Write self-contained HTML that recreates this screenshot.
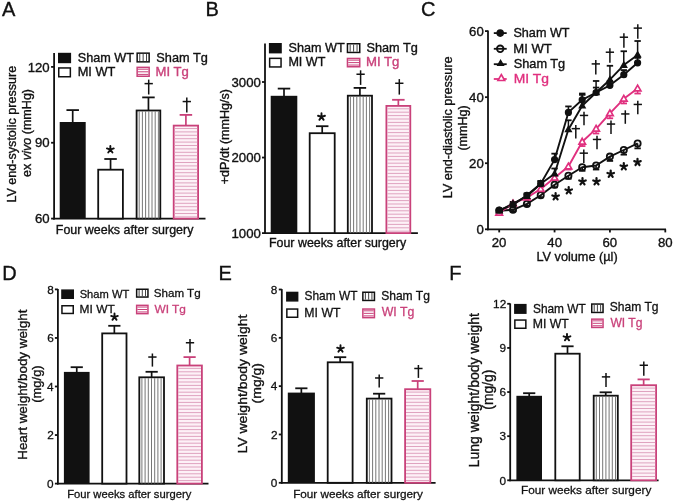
<!DOCTYPE html>
<html><head><meta charset="utf-8"><style>
html,body{margin:0;padding:0;background:#fff;}
svg{display:block;font-family:"Liberation Sans", sans-serif;will-change:transform;}
</style></head><body>
<svg width="675" height="504" viewBox="0 0 675 504">
<rect width="675" height="504" fill="#fff"/>
<text x="2.00" y="15.90" font-size="20" fill="#111" stroke="#111" stroke-width="0.35">A</text>
<text x="205.50" y="15.80" font-size="20" fill="#111" stroke="#111" stroke-width="0.35">B</text>
<text x="420.90" y="15.60" font-size="20" fill="#111" stroke="#111" stroke-width="0.35">C</text>
<text x="2.30" y="279.90" font-size="20" fill="#111" stroke="#111" stroke-width="0.35">D</text>
<text x="218.40" y="279.90" font-size="20" fill="#111" stroke="#111" stroke-width="0.35">E</text>
<text x="449.30" y="280.00" font-size="20" fill="#111" stroke="#111" stroke-width="0.35">F</text>
<line x1="54.10" y1="53.00" x2="54.10" y2="219.50" stroke="#111" stroke-width="1.8"/>
<line x1="51.10" y1="66.90" x2="54.10" y2="66.90" stroke="#111" stroke-width="1.8"/>
<text x="49.71" y="71.63" font-size="13.2" fill="#111" stroke="#111" stroke-width="0.35" text-anchor="end">120</text>
<line x1="51.10" y1="142.75" x2="54.10" y2="142.75" stroke="#111" stroke-width="1.8"/>
<text x="49.69" y="147.48" font-size="13.2" fill="#111" stroke="#111" stroke-width="0.35" text-anchor="end">90</text>
<line x1="51.10" y1="218.60" x2="54.10" y2="218.60" stroke="#111" stroke-width="1.8"/>
<text x="49.69" y="223.33" font-size="13.2" fill="#111" stroke="#111" stroke-width="0.35" text-anchor="end">60</text>
<line x1="53.20" y1="218.60" x2="205.50" y2="218.60" stroke="#111" stroke-width="1.8"/>
<line x1="72.70" y1="110.10" x2="72.70" y2="123.00" stroke="#111" stroke-width="1.7"/>
<line x1="66.45" y1="110.10" x2="78.95" y2="110.10" stroke="#111" stroke-width="1.8"/>
<rect x="59.70" y="122.00" width="26.00" height="96.60" fill="#111"/>
<line x1="110.55" y1="159.00" x2="110.55" y2="169.80" stroke="#111" stroke-width="1.7"/>
<line x1="104.30" y1="159.00" x2="116.80" y2="159.00" stroke="#111" stroke-width="1.8"/>
<rect x="98.20" y="169.70" width="24.70" height="48.90" fill="#fff" stroke="#111" stroke-width="1.8"/>
<line x1="148.45" y1="97.40" x2="148.45" y2="110.60" stroke="#111" stroke-width="1.7"/>
<line x1="142.20" y1="97.40" x2="154.70" y2="97.40" stroke="#111" stroke-width="1.8"/>
<rect x="136.60" y="110.50" width="23.70" height="108.10" fill="#fff" stroke="#111" stroke-width="1.8"/>
<line x1="139.20" y1="111.40" x2="139.20" y2="218.60" stroke="#666" stroke-width="0.9"/>
<line x1="142.40" y1="111.40" x2="142.40" y2="218.60" stroke="#666" stroke-width="0.9"/>
<line x1="145.60" y1="111.40" x2="145.60" y2="218.60" stroke="#666" stroke-width="0.9"/>
<line x1="148.80" y1="111.40" x2="148.80" y2="218.60" stroke="#666" stroke-width="0.9"/>
<line x1="152.00" y1="111.40" x2="152.00" y2="218.60" stroke="#666" stroke-width="0.9"/>
<line x1="155.20" y1="111.40" x2="155.20" y2="218.60" stroke="#666" stroke-width="0.9"/>
<line x1="158.40" y1="111.40" x2="158.40" y2="218.60" stroke="#666" stroke-width="0.9"/>
<line x1="185.90" y1="114.90" x2="185.90" y2="125.70" stroke="#c9417a" stroke-width="1.7"/>
<line x1="179.65" y1="114.90" x2="192.15" y2="114.90" stroke="#c9417a" stroke-width="1.8"/>
<rect x="173.70" y="125.60" width="24.40" height="93.00" fill="#fdf1f7" stroke="#c9417a" stroke-width="1.8"/>
<line x1="174.60" y1="128.50" x2="197.20" y2="128.50" stroke="#dfa3bf" stroke-width="1.0"/>
<line x1="174.60" y1="131.90" x2="197.20" y2="131.90" stroke="#dfa3bf" stroke-width="1.0"/>
<line x1="174.60" y1="135.30" x2="197.20" y2="135.30" stroke="#dfa3bf" stroke-width="1.0"/>
<line x1="174.60" y1="138.70" x2="197.20" y2="138.70" stroke="#dfa3bf" stroke-width="1.0"/>
<line x1="174.60" y1="142.10" x2="197.20" y2="142.10" stroke="#dfa3bf" stroke-width="1.0"/>
<line x1="174.60" y1="145.50" x2="197.20" y2="145.50" stroke="#dfa3bf" stroke-width="1.0"/>
<line x1="174.60" y1="148.90" x2="197.20" y2="148.90" stroke="#dfa3bf" stroke-width="1.0"/>
<line x1="174.60" y1="152.30" x2="197.20" y2="152.30" stroke="#dfa3bf" stroke-width="1.0"/>
<line x1="174.60" y1="155.70" x2="197.20" y2="155.70" stroke="#dfa3bf" stroke-width="1.0"/>
<line x1="174.60" y1="159.10" x2="197.20" y2="159.10" stroke="#dfa3bf" stroke-width="1.0"/>
<line x1="174.60" y1="162.50" x2="197.20" y2="162.50" stroke="#dfa3bf" stroke-width="1.0"/>
<line x1="174.60" y1="165.90" x2="197.20" y2="165.90" stroke="#dfa3bf" stroke-width="1.0"/>
<line x1="174.60" y1="169.30" x2="197.20" y2="169.30" stroke="#dfa3bf" stroke-width="1.0"/>
<line x1="174.60" y1="172.70" x2="197.20" y2="172.70" stroke="#dfa3bf" stroke-width="1.0"/>
<line x1="174.60" y1="176.10" x2="197.20" y2="176.10" stroke="#dfa3bf" stroke-width="1.0"/>
<line x1="174.60" y1="179.50" x2="197.20" y2="179.50" stroke="#dfa3bf" stroke-width="1.0"/>
<line x1="174.60" y1="182.90" x2="197.20" y2="182.90" stroke="#dfa3bf" stroke-width="1.0"/>
<line x1="174.60" y1="186.30" x2="197.20" y2="186.30" stroke="#dfa3bf" stroke-width="1.0"/>
<line x1="174.60" y1="189.70" x2="197.20" y2="189.70" stroke="#dfa3bf" stroke-width="1.0"/>
<line x1="174.60" y1="193.10" x2="197.20" y2="193.10" stroke="#dfa3bf" stroke-width="1.0"/>
<line x1="174.60" y1="196.50" x2="197.20" y2="196.50" stroke="#dfa3bf" stroke-width="1.0"/>
<line x1="174.60" y1="199.90" x2="197.20" y2="199.90" stroke="#dfa3bf" stroke-width="1.0"/>
<line x1="174.60" y1="203.30" x2="197.20" y2="203.30" stroke="#dfa3bf" stroke-width="1.0"/>
<line x1="174.60" y1="206.70" x2="197.20" y2="206.70" stroke="#dfa3bf" stroke-width="1.0"/>
<line x1="174.60" y1="210.10" x2="197.20" y2="210.10" stroke="#dfa3bf" stroke-width="1.0"/>
<line x1="174.60" y1="213.50" x2="197.20" y2="213.50" stroke="#dfa3bf" stroke-width="1.0"/>
<line x1="174.60" y1="216.90" x2="197.20" y2="216.90" stroke="#dfa3bf" stroke-width="1.0"/>
<path d="M110.35,149.54L110.35,145.95M110.35,149.54L106.93,148.43M110.35,149.54L108.24,152.45M110.35,149.54L112.46,152.45M110.35,149.54L113.77,148.43" stroke="#111" stroke-width="1.9" stroke-linecap="round" fill="none"/>
<line x1="148.70" y1="79.60" x2="148.70" y2="94.50" stroke="#111" stroke-width="1.5"/>
<line x1="144.55" y1="83.62" x2="152.85" y2="83.62" stroke="#111" stroke-width="1.5"/>
<line x1="186.80" y1="97.50" x2="186.80" y2="112.50" stroke="#111" stroke-width="1.5"/>
<line x1="182.65" y1="101.55" x2="190.95" y2="101.55" stroke="#111" stroke-width="1.5"/>
<rect x="58.75" y="53.55" width="11.60" height="8.90" fill="#111" stroke="#111" stroke-width="1.5"/>
<rect x="58.75" y="67.95" width="11.60" height="8.80" fill="#fff" stroke="#111" stroke-width="1.5"/>
<rect x="137.15" y="53.15" width="12.00" height="8.70" fill="#fff" stroke="#111" stroke-width="1.5"/>
<line x1="139.78" y1="53.90" x2="139.78" y2="61.10" stroke="#444" stroke-width="1.0"/>
<line x1="143.15" y1="53.90" x2="143.15" y2="61.10" stroke="#444" stroke-width="1.0"/>
<line x1="146.53" y1="53.90" x2="146.53" y2="61.10" stroke="#444" stroke-width="1.0"/>
<rect x="137.15" y="67.35" width="12.00" height="8.90" fill="#fff" stroke="#c9417a" stroke-width="1.5"/>
<line x1="137.90" y1="69.20" x2="148.40" y2="69.20" stroke="#c9417a" stroke-width="1.0"/>
<line x1="137.90" y1="71.80" x2="148.40" y2="71.80" stroke="#c9417a" stroke-width="1.0"/>
<line x1="137.90" y1="74.40" x2="148.40" y2="74.40" stroke="#c9417a" stroke-width="1.0"/>
<text x="77.73" y="62.00" font-size="12.6" fill="#111" stroke="#111" stroke-width="0.35" textLength="56.22" lengthAdjust="spacingAndGlyphs" >Sham WT</text>
<text x="77.69" y="76.40" font-size="12.6" fill="#111" stroke="#111" stroke-width="0.35" textLength="37.74" lengthAdjust="spacingAndGlyphs" >MI WT</text>
<text x="156.33" y="61.80" font-size="12.6" fill="#111" stroke="#111" stroke-width="0.35" textLength="51.48" lengthAdjust="spacingAndGlyphs" >Sham Tg</text>
<text x="155.59" y="76.00" font-size="12.6" fill="#c9417a" stroke="#c9417a" stroke-width="0.35" textLength="33.26" lengthAdjust="spacingAndGlyphs" >MI Tg</text>
<text x="55.80" y="234.00" font-size="12.45" fill="#111" stroke="#111" stroke-width="0.35" textLength="137.59" lengthAdjust="spacingAndGlyphs" >Four weeks after surgery</text>
<text x="0" y="0" font-size="12.5" fill="#111" stroke="#111" stroke-width="0.35" textLength="136.77" lengthAdjust="spacingAndGlyphs" transform="translate(15.80,202.60) rotate(-90)">LV end-systolic pressure</text>
<text x="0" y="0" font-size="12.5" fill="#111" stroke="#111" stroke-width="0.35" textLength="87.96" lengthAdjust="spacingAndGlyphs" transform="translate(31.00,176.90) rotate(-90)">ex <tspan font-style="italic">vivo</tspan> (mmHg)</text>
<line x1="265.00" y1="43.50" x2="265.00" y2="234.00" stroke="#111" stroke-width="1.8"/>
<line x1="262.00" y1="82.00" x2="265.00" y2="82.00" stroke="#111" stroke-width="1.8"/>
<text x="260.86" y="86.73" font-size="13.2" fill="#111" stroke="#111" stroke-width="0.35" text-anchor="end">3000</text>
<line x1="262.00" y1="157.55" x2="265.00" y2="157.55" stroke="#111" stroke-width="1.8"/>
<text x="260.86" y="162.28" font-size="13.2" fill="#111" stroke="#111" stroke-width="0.35" text-anchor="end">2000</text>
<line x1="262.00" y1="233.10" x2="265.00" y2="233.10" stroke="#111" stroke-width="1.8"/>
<text x="260.86" y="237.83" font-size="13.2" fill="#111" stroke="#111" stroke-width="0.35" text-anchor="end">1000</text>
<line x1="264.10" y1="233.10" x2="417.90" y2="233.10" stroke="#111" stroke-width="1.8"/>
<line x1="284.00" y1="88.60" x2="284.00" y2="96.80" stroke="#111" stroke-width="1.7"/>
<line x1="277.75" y1="88.60" x2="290.25" y2="88.60" stroke="#111" stroke-width="1.8"/>
<rect x="270.70" y="95.80" width="26.60" height="137.30" fill="#111"/>
<line x1="322.20" y1="126.20" x2="322.20" y2="133.30" stroke="#111" stroke-width="1.7"/>
<line x1="315.95" y1="126.20" x2="328.45" y2="126.20" stroke="#111" stroke-width="1.8"/>
<rect x="309.70" y="133.20" width="25.00" height="99.90" fill="#fff" stroke="#111" stroke-width="1.8"/>
<line x1="359.90" y1="87.90" x2="359.90" y2="95.80" stroke="#111" stroke-width="1.7"/>
<line x1="353.65" y1="87.90" x2="366.15" y2="87.90" stroke="#111" stroke-width="1.8"/>
<rect x="347.80" y="95.70" width="24.20" height="137.40" fill="#fff" stroke="#111" stroke-width="1.8"/>
<line x1="350.40" y1="96.60" x2="350.40" y2="233.10" stroke="#666" stroke-width="0.9"/>
<line x1="353.60" y1="96.60" x2="353.60" y2="233.10" stroke="#666" stroke-width="0.9"/>
<line x1="356.80" y1="96.60" x2="356.80" y2="233.10" stroke="#666" stroke-width="0.9"/>
<line x1="360.00" y1="96.60" x2="360.00" y2="233.10" stroke="#666" stroke-width="0.9"/>
<line x1="363.20" y1="96.60" x2="363.20" y2="233.10" stroke="#666" stroke-width="0.9"/>
<line x1="366.40" y1="96.60" x2="366.40" y2="233.10" stroke="#666" stroke-width="0.9"/>
<line x1="369.60" y1="96.60" x2="369.60" y2="233.10" stroke="#666" stroke-width="0.9"/>
<line x1="398.35" y1="99.80" x2="398.35" y2="106.00" stroke="#c9417a" stroke-width="1.7"/>
<line x1="392.10" y1="99.80" x2="404.60" y2="99.80" stroke="#c9417a" stroke-width="1.8"/>
<rect x="386.40" y="105.90" width="23.90" height="127.20" fill="#fdf1f7" stroke="#c9417a" stroke-width="1.8"/>
<line x1="387.30" y1="108.80" x2="409.40" y2="108.80" stroke="#dfa3bf" stroke-width="1.0"/>
<line x1="387.30" y1="112.20" x2="409.40" y2="112.20" stroke="#dfa3bf" stroke-width="1.0"/>
<line x1="387.30" y1="115.60" x2="409.40" y2="115.60" stroke="#dfa3bf" stroke-width="1.0"/>
<line x1="387.30" y1="119.00" x2="409.40" y2="119.00" stroke="#dfa3bf" stroke-width="1.0"/>
<line x1="387.30" y1="122.40" x2="409.40" y2="122.40" stroke="#dfa3bf" stroke-width="1.0"/>
<line x1="387.30" y1="125.80" x2="409.40" y2="125.80" stroke="#dfa3bf" stroke-width="1.0"/>
<line x1="387.30" y1="129.20" x2="409.40" y2="129.20" stroke="#dfa3bf" stroke-width="1.0"/>
<line x1="387.30" y1="132.60" x2="409.40" y2="132.60" stroke="#dfa3bf" stroke-width="1.0"/>
<line x1="387.30" y1="136.00" x2="409.40" y2="136.00" stroke="#dfa3bf" stroke-width="1.0"/>
<line x1="387.30" y1="139.40" x2="409.40" y2="139.40" stroke="#dfa3bf" stroke-width="1.0"/>
<line x1="387.30" y1="142.80" x2="409.40" y2="142.80" stroke="#dfa3bf" stroke-width="1.0"/>
<line x1="387.30" y1="146.20" x2="409.40" y2="146.20" stroke="#dfa3bf" stroke-width="1.0"/>
<line x1="387.30" y1="149.60" x2="409.40" y2="149.60" stroke="#dfa3bf" stroke-width="1.0"/>
<line x1="387.30" y1="153.00" x2="409.40" y2="153.00" stroke="#dfa3bf" stroke-width="1.0"/>
<line x1="387.30" y1="156.40" x2="409.40" y2="156.40" stroke="#dfa3bf" stroke-width="1.0"/>
<line x1="387.30" y1="159.80" x2="409.40" y2="159.80" stroke="#dfa3bf" stroke-width="1.0"/>
<line x1="387.30" y1="163.20" x2="409.40" y2="163.20" stroke="#dfa3bf" stroke-width="1.0"/>
<line x1="387.30" y1="166.60" x2="409.40" y2="166.60" stroke="#dfa3bf" stroke-width="1.0"/>
<line x1="387.30" y1="170.00" x2="409.40" y2="170.00" stroke="#dfa3bf" stroke-width="1.0"/>
<line x1="387.30" y1="173.40" x2="409.40" y2="173.40" stroke="#dfa3bf" stroke-width="1.0"/>
<line x1="387.30" y1="176.80" x2="409.40" y2="176.80" stroke="#dfa3bf" stroke-width="1.0"/>
<line x1="387.30" y1="180.20" x2="409.40" y2="180.20" stroke="#dfa3bf" stroke-width="1.0"/>
<line x1="387.30" y1="183.60" x2="409.40" y2="183.60" stroke="#dfa3bf" stroke-width="1.0"/>
<line x1="387.30" y1="187.00" x2="409.40" y2="187.00" stroke="#dfa3bf" stroke-width="1.0"/>
<line x1="387.30" y1="190.40" x2="409.40" y2="190.40" stroke="#dfa3bf" stroke-width="1.0"/>
<line x1="387.30" y1="193.80" x2="409.40" y2="193.80" stroke="#dfa3bf" stroke-width="1.0"/>
<line x1="387.30" y1="197.20" x2="409.40" y2="197.20" stroke="#dfa3bf" stroke-width="1.0"/>
<line x1="387.30" y1="200.60" x2="409.40" y2="200.60" stroke="#dfa3bf" stroke-width="1.0"/>
<line x1="387.30" y1="204.00" x2="409.40" y2="204.00" stroke="#dfa3bf" stroke-width="1.0"/>
<line x1="387.30" y1="207.40" x2="409.40" y2="207.40" stroke="#dfa3bf" stroke-width="1.0"/>
<line x1="387.30" y1="210.80" x2="409.40" y2="210.80" stroke="#dfa3bf" stroke-width="1.0"/>
<line x1="387.30" y1="214.20" x2="409.40" y2="214.20" stroke="#dfa3bf" stroke-width="1.0"/>
<line x1="387.30" y1="217.60" x2="409.40" y2="217.60" stroke="#dfa3bf" stroke-width="1.0"/>
<line x1="387.30" y1="221.00" x2="409.40" y2="221.00" stroke="#dfa3bf" stroke-width="1.0"/>
<line x1="387.30" y1="224.40" x2="409.40" y2="224.40" stroke="#dfa3bf" stroke-width="1.0"/>
<line x1="387.30" y1="227.80" x2="409.40" y2="227.80" stroke="#dfa3bf" stroke-width="1.0"/>
<line x1="387.30" y1="231.20" x2="409.40" y2="231.20" stroke="#dfa3bf" stroke-width="1.0"/>
<path d="M321.50,116.90L321.50,113.25M321.50,116.90L318.03,115.77M321.50,116.90L319.36,119.85M321.50,116.90L323.64,119.85M321.50,116.90L324.97,115.77" stroke="#111" stroke-width="1.9" stroke-linecap="round" fill="none"/>
<line x1="360.60" y1="70.30" x2="360.60" y2="84.90" stroke="#111" stroke-width="1.5"/>
<line x1="356.45" y1="74.24" x2="364.75" y2="74.24" stroke="#111" stroke-width="1.5"/>
<line x1="399.30" y1="79.10" x2="399.30" y2="94.60" stroke="#111" stroke-width="1.5"/>
<line x1="395.15" y1="83.28" x2="403.45" y2="83.28" stroke="#111" stroke-width="1.5"/>
<rect x="269.65" y="43.75" width="11.40" height="8.90" fill="#111" stroke="#111" stroke-width="1.5"/>
<rect x="269.65" y="58.35" width="11.40" height="8.60" fill="#fff" stroke="#111" stroke-width="1.5"/>
<rect x="347.45" y="43.75" width="12.30" height="8.70" fill="#fff" stroke="#111" stroke-width="1.5"/>
<line x1="350.15" y1="44.50" x2="350.15" y2="51.70" stroke="#444" stroke-width="1.0"/>
<line x1="353.60" y1="44.50" x2="353.60" y2="51.70" stroke="#444" stroke-width="1.0"/>
<line x1="357.05" y1="44.50" x2="357.05" y2="51.70" stroke="#444" stroke-width="1.0"/>
<rect x="347.45" y="58.45" width="12.30" height="8.30" fill="#fff" stroke="#c9417a" stroke-width="1.5"/>
<line x1="348.20" y1="60.15" x2="359.00" y2="60.15" stroke="#c9417a" stroke-width="1.0"/>
<line x1="348.20" y1="62.60" x2="359.00" y2="62.60" stroke="#c9417a" stroke-width="1.0"/>
<line x1="348.20" y1="65.05" x2="359.00" y2="65.05" stroke="#c9417a" stroke-width="1.0"/>
<text x="288.53" y="52.00" font-size="12.6" fill="#111" stroke="#111" stroke-width="0.35" textLength="56.22" lengthAdjust="spacingAndGlyphs" >Sham WT</text>
<text x="288.39" y="66.30" font-size="12.6" fill="#111" stroke="#111" stroke-width="0.35" textLength="37.04" lengthAdjust="spacingAndGlyphs" >MI WT</text>
<text x="366.43" y="52.00" font-size="12.6" fill="#111" stroke="#111" stroke-width="0.35" textLength="51.38" lengthAdjust="spacingAndGlyphs" >Sham Tg</text>
<text x="365.99" y="66.30" font-size="12.6" fill="#c9417a" stroke="#c9417a" stroke-width="0.35" textLength="33.46" lengthAdjust="spacingAndGlyphs" >MI Tg</text>
<text x="269.01" y="247.30" font-size="12.4" fill="#111" stroke="#111" stroke-width="0.35" textLength="137.09" lengthAdjust="spacingAndGlyphs" >Four weeks after surgery</text>
<text x="0" y="0" font-size="12.5" fill="#111" stroke="#111" stroke-width="0.35" textLength="95.24" lengthAdjust="spacingAndGlyphs" transform="translate(229.30,184.22) rotate(-90)">+dP/dt (mmHg/s)</text>
<line x1="488.00" y1="30.40" x2="488.00" y2="230.20" stroke="#111" stroke-width="1.8"/>
<line x1="485.00" y1="31.10" x2="488.00" y2="31.10" stroke="#111" stroke-width="1.8"/>
<text x="483.79" y="35.83" font-size="13.2" fill="#111" stroke="#111" stroke-width="0.35" text-anchor="end">60</text>
<line x1="485.00" y1="97.17" x2="488.00" y2="97.17" stroke="#111" stroke-width="1.8"/>
<text x="483.79" y="101.89" font-size="13.2" fill="#111" stroke="#111" stroke-width="0.35" text-anchor="end">40</text>
<line x1="485.00" y1="163.23" x2="488.00" y2="163.23" stroke="#111" stroke-width="1.8"/>
<text x="483.79" y="167.96" font-size="13.2" fill="#111" stroke="#111" stroke-width="0.35" text-anchor="end">20</text>
<line x1="485.00" y1="229.30" x2="488.00" y2="229.30" stroke="#111" stroke-width="1.8"/>
<text x="483.78" y="234.03" font-size="13.2" fill="#111" stroke="#111" stroke-width="0.35" text-anchor="end">0</text>
<line x1="487.10" y1="229.30" x2="666.00" y2="229.30" stroke="#111" stroke-width="1.8"/>
<line x1="499.20" y1="229.30" x2="499.20" y2="232.40" stroke="#111" stroke-width="1.8"/>
<text x="499.12" y="246.60" font-size="13.2" fill="#111" stroke="#111" stroke-width="0.35" text-anchor="middle">20</text>
<line x1="554.57" y1="229.30" x2="554.57" y2="232.40" stroke="#111" stroke-width="1.8"/>
<text x="554.68" y="246.60" font-size="13.2" fill="#111" stroke="#111" stroke-width="0.35" text-anchor="middle">40</text>
<line x1="609.93" y1="229.30" x2="609.93" y2="232.40" stroke="#111" stroke-width="1.8"/>
<text x="609.85" y="246.60" font-size="13.2" fill="#111" stroke="#111" stroke-width="0.35" text-anchor="middle">60</text>
<line x1="665.30" y1="229.30" x2="665.30" y2="232.40" stroke="#111" stroke-width="1.8"/>
<text x="665.25" y="246.60" font-size="13.2" fill="#111" stroke="#111" stroke-width="0.35" text-anchor="middle">80</text>
<text x="536.40" y="261.30" font-size="12.5" fill="#111" stroke="#111" stroke-width="0.35" textLength="81.29" lengthAdjust="spacingAndGlyphs" >LV volume (µl)</text>
<text x="0" y="0" font-size="12.6" fill="#111" stroke="#111" stroke-width="0.35" textLength="141.77" lengthAdjust="spacingAndGlyphs" transform="translate(452.40,198.31) rotate(-90)">LV end-diastolic pressure</text>
<text x="0" y="0" font-size="12.6" fill="#111" stroke="#111" stroke-width="0.35" textLength="45.32" lengthAdjust="spacingAndGlyphs" transform="translate(467.40,150.56) rotate(-90)">(mmHg)</text>
<line x1="499.20" y1="210.14" x2="499.20" y2="209.15" stroke="#111" stroke-width="1.5"/>
<line x1="496.00" y1="209.15" x2="502.40" y2="209.15" stroke="#111" stroke-width="1.8"/>
<line x1="513.04" y1="204.86" x2="513.04" y2="203.20" stroke="#111" stroke-width="1.5"/>
<line x1="509.84" y1="203.20" x2="516.24" y2="203.20" stroke="#111" stroke-width="1.8"/>
<line x1="526.88" y1="195.28" x2="526.88" y2="193.29" stroke="#111" stroke-width="1.5"/>
<line x1="523.68" y1="193.29" x2="530.08" y2="193.29" stroke="#111" stroke-width="1.8"/>
<line x1="540.73" y1="183.71" x2="540.73" y2="181.07" stroke="#111" stroke-width="1.5"/>
<line x1="537.52" y1="181.07" x2="543.93" y2="181.07" stroke="#111" stroke-width="1.8"/>
<line x1="554.57" y1="159.60" x2="554.57" y2="153.65" stroke="#111" stroke-width="1.5"/>
<line x1="551.37" y1="153.65" x2="557.77" y2="153.65" stroke="#111" stroke-width="1.8"/>
<line x1="568.41" y1="112.36" x2="568.41" y2="106.42" stroke="#111" stroke-width="1.5"/>
<line x1="565.21" y1="106.42" x2="571.61" y2="106.42" stroke="#111" stroke-width="1.8"/>
<line x1="582.25" y1="99.81" x2="582.25" y2="93.53" stroke="#111" stroke-width="1.5"/>
<line x1="579.05" y1="93.53" x2="585.45" y2="93.53" stroke="#111" stroke-width="1.8"/>
<line x1="596.09" y1="92.54" x2="596.09" y2="87.59" stroke="#111" stroke-width="1.5"/>
<line x1="592.89" y1="87.59" x2="599.29" y2="87.59" stroke="#111" stroke-width="1.8"/>
<line x1="609.93" y1="85.27" x2="609.93" y2="80.98" stroke="#111" stroke-width="1.5"/>
<line x1="606.73" y1="80.98" x2="613.13" y2="80.98" stroke="#111" stroke-width="1.8"/>
<line x1="623.77" y1="74.70" x2="623.77" y2="70.08" stroke="#111" stroke-width="1.5"/>
<line x1="620.57" y1="70.08" x2="626.98" y2="70.08" stroke="#111" stroke-width="1.8"/>
<line x1="637.62" y1="62.81" x2="637.62" y2="57.86" stroke="#111" stroke-width="1.5"/>
<line x1="634.42" y1="57.86" x2="640.82" y2="57.86" stroke="#111" stroke-width="1.8"/>
<line x1="499.20" y1="210.80" x2="499.20" y2="209.81" stroke="#111" stroke-width="1.5"/>
<line x1="496.00" y1="209.81" x2="502.40" y2="209.81" stroke="#111" stroke-width="1.8"/>
<line x1="513.04" y1="203.53" x2="513.04" y2="201.88" stroke="#111" stroke-width="1.5"/>
<line x1="509.84" y1="201.88" x2="516.24" y2="201.88" stroke="#111" stroke-width="1.8"/>
<line x1="526.88" y1="196.27" x2="526.88" y2="194.28" stroke="#111" stroke-width="1.5"/>
<line x1="523.68" y1="194.28" x2="530.08" y2="194.28" stroke="#111" stroke-width="1.8"/>
<line x1="540.73" y1="183.71" x2="540.73" y2="181.07" stroke="#111" stroke-width="1.5"/>
<line x1="537.52" y1="181.07" x2="543.93" y2="181.07" stroke="#111" stroke-width="1.8"/>
<line x1="554.57" y1="173.80" x2="554.57" y2="168.52" stroke="#111" stroke-width="1.5"/>
<line x1="551.37" y1="168.52" x2="557.77" y2="168.52" stroke="#111" stroke-width="1.8"/>
<line x1="568.41" y1="129.54" x2="568.41" y2="120.29" stroke="#111" stroke-width="1.5"/>
<line x1="565.21" y1="120.29" x2="571.61" y2="120.29" stroke="#111" stroke-width="1.8"/>
<line x1="582.25" y1="105.76" x2="582.25" y2="94.85" stroke="#111" stroke-width="1.5"/>
<line x1="579.05" y1="94.85" x2="585.45" y2="94.85" stroke="#111" stroke-width="1.8"/>
<line x1="596.09" y1="92.54" x2="596.09" y2="80.98" stroke="#111" stroke-width="1.5"/>
<line x1="592.89" y1="80.98" x2="599.29" y2="80.98" stroke="#111" stroke-width="1.8"/>
<line x1="609.93" y1="79.66" x2="609.93" y2="65.78" stroke="#111" stroke-width="1.5"/>
<line x1="606.73" y1="65.78" x2="613.13" y2="65.78" stroke="#111" stroke-width="1.8"/>
<line x1="623.77" y1="65.12" x2="623.77" y2="51.25" stroke="#111" stroke-width="1.5"/>
<line x1="620.57" y1="51.25" x2="626.98" y2="51.25" stroke="#111" stroke-width="1.8"/>
<line x1="637.62" y1="54.88" x2="637.62" y2="41.01" stroke="#111" stroke-width="1.5"/>
<line x1="634.42" y1="41.01" x2="640.82" y2="41.01" stroke="#111" stroke-width="1.8"/>
<line x1="499.20" y1="212.78" x2="499.20" y2="213.77" stroke="#e0307f" stroke-width="1.5"/>
<line x1="496.00" y1="213.77" x2="502.40" y2="213.77" stroke="#e0307f" stroke-width="1.8"/>
<line x1="513.04" y1="203.53" x2="513.04" y2="204.86" stroke="#e0307f" stroke-width="1.5"/>
<line x1="509.84" y1="204.86" x2="516.24" y2="204.86" stroke="#e0307f" stroke-width="1.8"/>
<line x1="526.88" y1="197.59" x2="526.88" y2="199.24" stroke="#e0307f" stroke-width="1.5"/>
<line x1="523.68" y1="199.24" x2="530.08" y2="199.24" stroke="#e0307f" stroke-width="1.8"/>
<line x1="540.73" y1="189.00" x2="540.73" y2="190.98" stroke="#e0307f" stroke-width="1.5"/>
<line x1="537.52" y1="190.98" x2="543.93" y2="190.98" stroke="#e0307f" stroke-width="1.8"/>
<line x1="554.57" y1="177.77" x2="554.57" y2="180.41" stroke="#e0307f" stroke-width="1.5"/>
<line x1="551.37" y1="180.41" x2="557.77" y2="180.41" stroke="#e0307f" stroke-width="1.8"/>
<line x1="568.41" y1="166.54" x2="568.41" y2="169.51" stroke="#e0307f" stroke-width="1.5"/>
<line x1="565.21" y1="169.51" x2="571.61" y2="169.51" stroke="#e0307f" stroke-width="1.8"/>
<line x1="582.25" y1="141.76" x2="582.25" y2="146.06" stroke="#e0307f" stroke-width="1.5"/>
<line x1="579.05" y1="146.06" x2="585.45" y2="146.06" stroke="#e0307f" stroke-width="1.8"/>
<line x1="596.09" y1="128.88" x2="596.09" y2="133.50" stroke="#e0307f" stroke-width="1.5"/>
<line x1="592.89" y1="133.50" x2="599.29" y2="133.50" stroke="#e0307f" stroke-width="1.8"/>
<line x1="609.93" y1="113.35" x2="609.93" y2="118.31" stroke="#e0307f" stroke-width="1.5"/>
<line x1="606.73" y1="118.31" x2="613.13" y2="118.31" stroke="#e0307f" stroke-width="1.8"/>
<line x1="623.77" y1="98.82" x2="623.77" y2="103.44" stroke="#e0307f" stroke-width="1.5"/>
<line x1="620.57" y1="103.44" x2="626.98" y2="103.44" stroke="#e0307f" stroke-width="1.8"/>
<line x1="637.62" y1="88.58" x2="637.62" y2="93.53" stroke="#e0307f" stroke-width="1.5"/>
<line x1="634.42" y1="93.53" x2="640.82" y2="93.53" stroke="#e0307f" stroke-width="1.8"/>
<line x1="499.20" y1="210.80" x2="499.20" y2="211.79" stroke="#111" stroke-width="1.5"/>
<line x1="496.00" y1="211.79" x2="502.40" y2="211.79" stroke="#111" stroke-width="1.8"/>
<line x1="513.04" y1="209.81" x2="513.04" y2="211.13" stroke="#111" stroke-width="1.5"/>
<line x1="509.84" y1="211.13" x2="516.24" y2="211.13" stroke="#111" stroke-width="1.8"/>
<line x1="526.88" y1="203.86" x2="526.88" y2="205.52" stroke="#111" stroke-width="1.5"/>
<line x1="523.68" y1="205.52" x2="530.08" y2="205.52" stroke="#111" stroke-width="1.8"/>
<line x1="540.73" y1="195.28" x2="540.73" y2="197.26" stroke="#111" stroke-width="1.5"/>
<line x1="537.52" y1="197.26" x2="543.93" y2="197.26" stroke="#111" stroke-width="1.8"/>
<line x1="554.57" y1="184.71" x2="554.57" y2="187.35" stroke="#111" stroke-width="1.5"/>
<line x1="551.37" y1="187.35" x2="557.77" y2="187.35" stroke="#111" stroke-width="1.8"/>
<line x1="568.41" y1="175.79" x2="568.41" y2="178.76" stroke="#111" stroke-width="1.5"/>
<line x1="565.21" y1="178.76" x2="571.61" y2="178.76" stroke="#111" stroke-width="1.8"/>
<line x1="582.25" y1="167.20" x2="582.25" y2="170.83" stroke="#111" stroke-width="1.5"/>
<line x1="579.05" y1="170.83" x2="585.45" y2="170.83" stroke="#111" stroke-width="1.8"/>
<line x1="596.09" y1="165.55" x2="596.09" y2="169.51" stroke="#111" stroke-width="1.5"/>
<line x1="592.89" y1="169.51" x2="599.29" y2="169.51" stroke="#111" stroke-width="1.8"/>
<line x1="609.93" y1="156.63" x2="609.93" y2="160.92" stroke="#111" stroke-width="1.5"/>
<line x1="606.73" y1="160.92" x2="613.13" y2="160.92" stroke="#111" stroke-width="1.8"/>
<line x1="623.77" y1="150.02" x2="623.77" y2="154.64" stroke="#111" stroke-width="1.5"/>
<line x1="620.57" y1="154.64" x2="626.98" y2="154.64" stroke="#111" stroke-width="1.8"/>
<line x1="637.62" y1="143.41" x2="637.62" y2="148.37" stroke="#111" stroke-width="1.5"/>
<line x1="634.42" y1="148.37" x2="640.82" y2="148.37" stroke="#111" stroke-width="1.8"/>
<polyline points="499.2,210.8 513.0,209.8 526.9,203.9 540.7,195.3 554.6,184.7 568.4,175.8 582.2,167.2 596.1,165.5 609.9,156.6 623.8,150.0 637.6,143.4" fill="none" stroke="#111" stroke-width="1.9" stroke-linejoin="round"/>
<polyline points="499.2,212.8 513.0,203.5 526.9,197.6 540.7,189.0 554.6,177.8 568.4,166.5 582.2,141.8 596.1,128.9 609.9,113.4 623.8,98.8 637.6,88.6" fill="none" stroke="#e0307f" stroke-width="1.9" stroke-linejoin="round"/>
<polyline points="499.2,210.8 513.0,203.5 526.9,196.3 540.7,183.7 554.6,173.8 568.4,129.5 582.2,105.8 596.1,92.5 609.9,79.7 623.8,65.1 637.6,54.9" fill="none" stroke="#111" stroke-width="1.9" stroke-linejoin="round"/>
<polyline points="499.2,210.1 513.0,204.9 526.9,195.3 540.7,183.7 554.6,159.6 568.4,112.4 582.2,99.8 596.1,92.5 609.9,85.3 623.8,74.7 637.6,62.8" fill="none" stroke="#111" stroke-width="1.9" stroke-linejoin="round"/>
<circle cx="499.2" cy="210.8" r="3.1" fill="none" stroke="#111" stroke-width="1.8"/>
<circle cx="513.0" cy="209.8" r="3.1" fill="none" stroke="#111" stroke-width="1.8"/>
<circle cx="526.9" cy="203.9" r="3.1" fill="none" stroke="#111" stroke-width="1.8"/>
<circle cx="540.7" cy="195.3" r="3.1" fill="none" stroke="#111" stroke-width="1.8"/>
<circle cx="554.6" cy="184.7" r="3.1" fill="none" stroke="#111" stroke-width="1.8"/>
<circle cx="568.4" cy="175.8" r="3.1" fill="none" stroke="#111" stroke-width="1.8"/>
<circle cx="582.2" cy="167.2" r="3.1" fill="none" stroke="#111" stroke-width="1.8"/>
<circle cx="596.1" cy="165.5" r="3.1" fill="none" stroke="#111" stroke-width="1.8"/>
<circle cx="609.9" cy="156.6" r="3.1" fill="none" stroke="#111" stroke-width="1.8"/>
<circle cx="623.8" cy="150.0" r="3.1" fill="none" stroke="#111" stroke-width="1.8"/>
<circle cx="637.6" cy="143.4" r="3.1" fill="none" stroke="#111" stroke-width="1.8"/>
<polygon points="499.2,209.3 502.5,215.1 495.9,215.1" fill="#fff" stroke="#e0307f" stroke-width="1.7" stroke-linejoin="miter"/>
<polygon points="513.0,200.1 516.3,205.8 509.7,205.8" fill="#fff" stroke="#e0307f" stroke-width="1.7" stroke-linejoin="miter"/>
<polygon points="526.9,194.1 530.2,199.9 523.6,199.9" fill="#fff" stroke="#e0307f" stroke-width="1.7" stroke-linejoin="miter"/>
<polygon points="540.7,185.5 544.0,191.3 537.4,191.3" fill="#fff" stroke="#e0307f" stroke-width="1.7" stroke-linejoin="miter"/>
<polygon points="554.6,174.3 557.9,180.1 551.3,180.1" fill="#fff" stroke="#e0307f" stroke-width="1.7" stroke-linejoin="miter"/>
<polygon points="568.4,163.1 571.7,168.8 565.1,168.8" fill="#fff" stroke="#e0307f" stroke-width="1.7" stroke-linejoin="miter"/>
<polygon points="582.2,138.3 585.5,144.1 579.0,144.1" fill="#fff" stroke="#e0307f" stroke-width="1.7" stroke-linejoin="miter"/>
<polygon points="596.1,125.4 599.4,131.2 592.8,131.2" fill="#fff" stroke="#e0307f" stroke-width="1.7" stroke-linejoin="miter"/>
<polygon points="609.9,109.9 613.2,115.7 606.6,115.7" fill="#fff" stroke="#e0307f" stroke-width="1.7" stroke-linejoin="miter"/>
<polygon points="623.8,95.4 627.1,101.1 620.5,101.1" fill="#fff" stroke="#e0307f" stroke-width="1.7" stroke-linejoin="miter"/>
<polygon points="637.6,85.1 640.9,90.9 634.3,90.9" fill="#fff" stroke="#e0307f" stroke-width="1.7" stroke-linejoin="miter"/>
<polygon points="499.2,207.8 502.1,212.8 496.3,212.8" fill="#111" stroke="#111" stroke-width="1.4" stroke-linejoin="miter"/>
<polygon points="513.0,200.5 515.9,205.6 510.1,205.6" fill="#111" stroke="#111" stroke-width="1.4" stroke-linejoin="miter"/>
<polygon points="526.9,193.2 529.8,198.3 524.0,198.3" fill="#111" stroke="#111" stroke-width="1.4" stroke-linejoin="miter"/>
<polygon points="540.7,180.7 543.6,185.7 537.8,185.7" fill="#111" stroke="#111" stroke-width="1.4" stroke-linejoin="miter"/>
<polygon points="554.6,170.8 557.5,175.8 551.7,175.8" fill="#111" stroke="#111" stroke-width="1.4" stroke-linejoin="miter"/>
<polygon points="568.4,126.5 571.3,131.6 565.5,131.6" fill="#111" stroke="#111" stroke-width="1.4" stroke-linejoin="miter"/>
<polygon points="582.2,102.7 585.1,107.8 579.4,107.8" fill="#111" stroke="#111" stroke-width="1.4" stroke-linejoin="miter"/>
<polygon points="596.1,89.5 599.0,94.6 593.2,94.6" fill="#111" stroke="#111" stroke-width="1.4" stroke-linejoin="miter"/>
<polygon points="609.9,76.6 612.8,81.7 607.0,81.7" fill="#111" stroke="#111" stroke-width="1.4" stroke-linejoin="miter"/>
<polygon points="623.8,62.1 626.7,67.2 620.9,67.2" fill="#111" stroke="#111" stroke-width="1.4" stroke-linejoin="miter"/>
<polygon points="637.6,51.8 640.5,56.9 634.7,56.9" fill="#111" stroke="#111" stroke-width="1.4" stroke-linejoin="miter"/>
<circle cx="499.2" cy="210.1" r="2.9" fill="#111" stroke="#111" stroke-width="1.4"/>
<circle cx="513.0" cy="204.9" r="2.9" fill="#111" stroke="#111" stroke-width="1.4"/>
<circle cx="526.9" cy="195.3" r="2.9" fill="#111" stroke="#111" stroke-width="1.4"/>
<circle cx="540.7" cy="183.7" r="2.9" fill="#111" stroke="#111" stroke-width="1.4"/>
<circle cx="554.6" cy="159.6" r="2.9" fill="#111" stroke="#111" stroke-width="1.4"/>
<circle cx="568.4" cy="112.4" r="2.9" fill="#111" stroke="#111" stroke-width="1.4"/>
<circle cx="582.2" cy="99.8" r="2.9" fill="#111" stroke="#111" stroke-width="1.4"/>
<circle cx="596.1" cy="92.5" r="2.9" fill="#111" stroke="#111" stroke-width="1.4"/>
<circle cx="609.9" cy="85.3" r="2.9" fill="#111" stroke="#111" stroke-width="1.4"/>
<circle cx="623.8" cy="74.7" r="2.9" fill="#111" stroke="#111" stroke-width="1.4"/>
<circle cx="637.6" cy="62.8" r="2.9" fill="#111" stroke="#111" stroke-width="1.4"/>
<line x1="493.80" y1="33.10" x2="506.70" y2="33.10" stroke="#111" stroke-width="1.8"/>
<circle cx="500.2" cy="33.1" r="3.0" fill="#111" stroke="#111" stroke-width="1.6"/>
<text x="513.43" y="36.90" font-size="12.7" fill="#111" stroke="#111" stroke-width="0.35" textLength="56.12" lengthAdjust="spacingAndGlyphs" >Sham WT</text>
<line x1="493.80" y1="48.80" x2="506.70" y2="48.80" stroke="#111" stroke-width="1.8"/>
<circle cx="500.2" cy="48.8" r="3.3" fill="none" stroke="#111" stroke-width="1.8"/>
<text x="513.28" y="52.80" font-size="12.7" fill="#111" stroke="#111" stroke-width="0.35" textLength="38.55" lengthAdjust="spacingAndGlyphs" >MI WT</text>
<line x1="493.80" y1="64.20" x2="506.70" y2="64.20" stroke="#111" stroke-width="1.8"/>
<polygon points="500.6,60.3 503.6,65.5 497.6,65.5" fill="#111" stroke="#111" stroke-width="1.2" stroke-linejoin="miter"/>
<text x="513.73" y="68.10" font-size="12.7" fill="#111" stroke="#111" stroke-width="0.35" textLength="51.49" lengthAdjust="spacingAndGlyphs" >Sham Tg</text>
<line x1="493.80" y1="79.00" x2="506.70" y2="79.00" stroke="#e0307f" stroke-width="1.8"/>
<polygon points="501.3,74.5 504.7,80.5 497.9,80.5" fill="#fff" stroke="#e0307f" stroke-width="1.6" stroke-linejoin="miter"/>
<text x="513.68" y="83.30" font-size="12.7" fill="#e0307f" stroke="#e0307f" stroke-width="0.35" textLength="35.18" lengthAdjust="spacingAndGlyphs" >MI Tg</text>
<path d="M555.60,196.53L555.60,193.10M555.60,196.53L552.34,195.47M555.60,196.53L553.59,199.30M555.60,196.53L557.61,199.30M555.60,196.53L558.86,195.47" stroke="#111" stroke-width="2.2" stroke-linecap="round" fill="none"/>
<path d="M568.70,190.53L568.70,187.10M568.70,190.53L565.44,189.47M568.70,190.53L566.69,193.30M568.70,190.53L570.71,193.30M568.70,190.53L571.96,189.47" stroke="#111" stroke-width="2.2" stroke-linecap="round" fill="none"/>
<path d="M582.50,181.53L582.50,178.10M582.50,181.53L579.24,180.47M582.50,181.53L580.49,184.30M582.50,181.53L584.51,184.30M582.50,181.53L585.76,180.47" stroke="#111" stroke-width="2.2" stroke-linecap="round" fill="none"/>
<path d="M596.50,181.53L596.50,178.10M596.50,181.53L593.24,180.47M596.50,181.53L594.49,184.30M596.50,181.53L598.51,184.30M596.50,181.53L599.76,180.47" stroke="#111" stroke-width="2.2" stroke-linecap="round" fill="none"/>
<path d="M610.70,174.03L610.70,170.60M610.70,174.03L607.44,172.97M610.70,174.03L608.69,176.80M610.70,174.03L612.71,176.80M610.70,174.03L613.96,172.97" stroke="#111" stroke-width="2.2" stroke-linecap="round" fill="none"/>
<path d="M623.80,166.53L623.80,163.10M623.80,166.53L620.54,165.47M623.80,166.53L621.79,169.30M623.80,166.53L625.81,169.30M623.80,166.53L627.06,165.47" stroke="#111" stroke-width="2.2" stroke-linecap="round" fill="none"/>
<path d="M637.50,162.23L637.50,158.80M637.50,162.23L634.24,161.17M637.50,162.23L635.49,165.00M637.50,162.23L639.51,165.00M637.50,162.23L640.76,161.17" stroke="#111" stroke-width="2.2" stroke-linecap="round" fill="none"/>
<line x1="595.80" y1="60.00" x2="595.80" y2="74.50" stroke="#111" stroke-width="1.5"/>
<line x1="591.65" y1="63.91" x2="599.95" y2="63.91" stroke="#111" stroke-width="1.5"/>
<line x1="609.90" y1="48.30" x2="609.90" y2="62.80" stroke="#111" stroke-width="1.5"/>
<line x1="605.75" y1="52.21" x2="614.05" y2="52.21" stroke="#111" stroke-width="1.5"/>
<line x1="623.90" y1="33.30" x2="623.90" y2="47.80" stroke="#111" stroke-width="1.5"/>
<line x1="619.75" y1="37.21" x2="628.05" y2="37.21" stroke="#111" stroke-width="1.5"/>
<line x1="637.80" y1="24.20" x2="637.80" y2="38.70" stroke="#111" stroke-width="1.5"/>
<line x1="633.65" y1="28.11" x2="641.95" y2="28.11" stroke="#111" stroke-width="1.5"/>
<line x1="575.80" y1="125.00" x2="575.80" y2="138.50" stroke="#111" stroke-width="1.5"/>
<line x1="571.65" y1="128.65" x2="579.95" y2="128.65" stroke="#111" stroke-width="1.5"/>
<line x1="584.00" y1="111.80" x2="584.00" y2="125.30" stroke="#111" stroke-width="1.5"/>
<line x1="579.85" y1="115.44" x2="588.15" y2="115.44" stroke="#111" stroke-width="1.5"/>
<line x1="583.80" y1="149.50" x2="583.80" y2="163.00" stroke="#111" stroke-width="1.5"/>
<line x1="579.65" y1="153.15" x2="587.95" y2="153.15" stroke="#111" stroke-width="1.5"/>
<line x1="597.00" y1="135.80" x2="597.00" y2="149.30" stroke="#111" stroke-width="1.5"/>
<line x1="592.85" y1="139.45" x2="601.15" y2="139.45" stroke="#111" stroke-width="1.5"/>
<line x1="611.00" y1="120.40" x2="611.00" y2="133.90" stroke="#111" stroke-width="1.5"/>
<line x1="606.85" y1="124.05" x2="615.15" y2="124.05" stroke="#111" stroke-width="1.5"/>
<line x1="625.30" y1="110.30" x2="625.30" y2="123.80" stroke="#111" stroke-width="1.5"/>
<line x1="621.15" y1="113.94" x2="629.45" y2="113.94" stroke="#111" stroke-width="1.5"/>
<line x1="637.80" y1="100.80" x2="637.80" y2="114.30" stroke="#111" stroke-width="1.5"/>
<line x1="633.65" y1="104.44" x2="641.95" y2="104.44" stroke="#111" stroke-width="1.5"/>
<line x1="57.90" y1="289.00" x2="57.90" y2="484.50" stroke="#111" stroke-width="1.8"/>
<line x1="54.90" y1="289.40" x2="57.90" y2="289.40" stroke="#111" stroke-width="1.8"/>
<text x="53.69" y="293.62" font-size="11.8" fill="#111" stroke="#111" stroke-width="0.28" text-anchor="end">8</text>
<line x1="54.90" y1="337.95" x2="57.90" y2="337.95" stroke="#111" stroke-width="1.8"/>
<text x="53.69" y="342.17" font-size="11.8" fill="#111" stroke="#111" stroke-width="0.28" text-anchor="end">6</text>
<line x1="54.90" y1="386.50" x2="57.90" y2="386.50" stroke="#111" stroke-width="1.8"/>
<text x="53.57" y="390.72" font-size="11.8" fill="#111" stroke="#111" stroke-width="0.28" text-anchor="end">4</text>
<line x1="54.90" y1="435.05" x2="57.90" y2="435.05" stroke="#111" stroke-width="1.8"/>
<text x="53.80" y="439.27" font-size="11.8" fill="#111" stroke="#111" stroke-width="0.28" text-anchor="end">2</text>
<line x1="54.90" y1="483.60" x2="57.90" y2="483.60" stroke="#111" stroke-width="1.8"/>
<text x="53.63" y="487.82" font-size="11.8" fill="#111" stroke="#111" stroke-width="0.28" text-anchor="end">0</text>
<line x1="57.00" y1="483.60" x2="208.50" y2="483.60" stroke="#111" stroke-width="1.8"/>
<line x1="76.75" y1="367.20" x2="76.75" y2="372.90" stroke="#111" stroke-width="1.7"/>
<line x1="70.65" y1="367.20" x2="82.85" y2="367.20" stroke="#111" stroke-width="1.8"/>
<rect x="63.90" y="371.90" width="25.70" height="111.70" fill="#111"/>
<line x1="114.35" y1="325.80" x2="114.35" y2="333.50" stroke="#111" stroke-width="1.7"/>
<line x1="108.25" y1="325.80" x2="120.45" y2="325.80" stroke="#111" stroke-width="1.8"/>
<rect x="102.20" y="333.40" width="24.30" height="150.20" fill="#fff" stroke="#111" stroke-width="1.8"/>
<line x1="151.65" y1="371.80" x2="151.65" y2="377.40" stroke="#111" stroke-width="1.7"/>
<line x1="145.55" y1="371.80" x2="157.75" y2="371.80" stroke="#111" stroke-width="1.8"/>
<rect x="139.30" y="377.30" width="24.70" height="106.30" fill="#fff" stroke="#111" stroke-width="1.8"/>
<line x1="141.90" y1="378.20" x2="141.90" y2="483.60" stroke="#666" stroke-width="0.9"/>
<line x1="145.10" y1="378.20" x2="145.10" y2="483.60" stroke="#666" stroke-width="0.9"/>
<line x1="148.30" y1="378.20" x2="148.30" y2="483.60" stroke="#666" stroke-width="0.9"/>
<line x1="151.50" y1="378.20" x2="151.50" y2="483.60" stroke="#666" stroke-width="0.9"/>
<line x1="154.70" y1="378.20" x2="154.70" y2="483.60" stroke="#666" stroke-width="0.9"/>
<line x1="157.90" y1="378.20" x2="157.90" y2="483.60" stroke="#666" stroke-width="0.9"/>
<line x1="161.10" y1="378.20" x2="161.10" y2="483.60" stroke="#666" stroke-width="0.9"/>
<line x1="189.60" y1="357.10" x2="189.60" y2="365.60" stroke="#c9417a" stroke-width="1.7"/>
<line x1="183.50" y1="357.10" x2="195.70" y2="357.10" stroke="#c9417a" stroke-width="1.8"/>
<rect x="177.30" y="365.50" width="24.60" height="118.10" fill="#fdf1f7" stroke="#c9417a" stroke-width="1.8"/>
<line x1="178.20" y1="368.40" x2="201.00" y2="368.40" stroke="#dfa3bf" stroke-width="1.0"/>
<line x1="178.20" y1="371.80" x2="201.00" y2="371.80" stroke="#dfa3bf" stroke-width="1.0"/>
<line x1="178.20" y1="375.20" x2="201.00" y2="375.20" stroke="#dfa3bf" stroke-width="1.0"/>
<line x1="178.20" y1="378.60" x2="201.00" y2="378.60" stroke="#dfa3bf" stroke-width="1.0"/>
<line x1="178.20" y1="382.00" x2="201.00" y2="382.00" stroke="#dfa3bf" stroke-width="1.0"/>
<line x1="178.20" y1="385.40" x2="201.00" y2="385.40" stroke="#dfa3bf" stroke-width="1.0"/>
<line x1="178.20" y1="388.80" x2="201.00" y2="388.80" stroke="#dfa3bf" stroke-width="1.0"/>
<line x1="178.20" y1="392.20" x2="201.00" y2="392.20" stroke="#dfa3bf" stroke-width="1.0"/>
<line x1="178.20" y1="395.60" x2="201.00" y2="395.60" stroke="#dfa3bf" stroke-width="1.0"/>
<line x1="178.20" y1="399.00" x2="201.00" y2="399.00" stroke="#dfa3bf" stroke-width="1.0"/>
<line x1="178.20" y1="402.40" x2="201.00" y2="402.40" stroke="#dfa3bf" stroke-width="1.0"/>
<line x1="178.20" y1="405.80" x2="201.00" y2="405.80" stroke="#dfa3bf" stroke-width="1.0"/>
<line x1="178.20" y1="409.20" x2="201.00" y2="409.20" stroke="#dfa3bf" stroke-width="1.0"/>
<line x1="178.20" y1="412.60" x2="201.00" y2="412.60" stroke="#dfa3bf" stroke-width="1.0"/>
<line x1="178.20" y1="416.00" x2="201.00" y2="416.00" stroke="#dfa3bf" stroke-width="1.0"/>
<line x1="178.20" y1="419.40" x2="201.00" y2="419.40" stroke="#dfa3bf" stroke-width="1.0"/>
<line x1="178.20" y1="422.80" x2="201.00" y2="422.80" stroke="#dfa3bf" stroke-width="1.0"/>
<line x1="178.20" y1="426.20" x2="201.00" y2="426.20" stroke="#dfa3bf" stroke-width="1.0"/>
<line x1="178.20" y1="429.60" x2="201.00" y2="429.60" stroke="#dfa3bf" stroke-width="1.0"/>
<line x1="178.20" y1="433.00" x2="201.00" y2="433.00" stroke="#dfa3bf" stroke-width="1.0"/>
<line x1="178.20" y1="436.40" x2="201.00" y2="436.40" stroke="#dfa3bf" stroke-width="1.0"/>
<line x1="178.20" y1="439.80" x2="201.00" y2="439.80" stroke="#dfa3bf" stroke-width="1.0"/>
<line x1="178.20" y1="443.20" x2="201.00" y2="443.20" stroke="#dfa3bf" stroke-width="1.0"/>
<line x1="178.20" y1="446.60" x2="201.00" y2="446.60" stroke="#dfa3bf" stroke-width="1.0"/>
<line x1="178.20" y1="450.00" x2="201.00" y2="450.00" stroke="#dfa3bf" stroke-width="1.0"/>
<line x1="178.20" y1="453.40" x2="201.00" y2="453.40" stroke="#dfa3bf" stroke-width="1.0"/>
<line x1="178.20" y1="456.80" x2="201.00" y2="456.80" stroke="#dfa3bf" stroke-width="1.0"/>
<line x1="178.20" y1="460.20" x2="201.00" y2="460.20" stroke="#dfa3bf" stroke-width="1.0"/>
<line x1="178.20" y1="463.60" x2="201.00" y2="463.60" stroke="#dfa3bf" stroke-width="1.0"/>
<line x1="178.20" y1="467.00" x2="201.00" y2="467.00" stroke="#dfa3bf" stroke-width="1.0"/>
<line x1="178.20" y1="470.40" x2="201.00" y2="470.40" stroke="#dfa3bf" stroke-width="1.0"/>
<line x1="178.20" y1="473.80" x2="201.00" y2="473.80" stroke="#dfa3bf" stroke-width="1.0"/>
<line x1="178.20" y1="477.20" x2="201.00" y2="477.20" stroke="#dfa3bf" stroke-width="1.0"/>
<line x1="178.20" y1="480.60" x2="201.00" y2="480.60" stroke="#dfa3bf" stroke-width="1.0"/>
<path d="M114.50,317.03L114.50,313.55M114.50,317.03L111.19,315.96M114.50,317.03L112.45,319.85M114.50,317.03L116.55,319.85M114.50,317.03L117.81,315.96" stroke="#111" stroke-width="1.9" stroke-linecap="round" fill="none"/>
<line x1="152.40" y1="353.50" x2="152.40" y2="366.60" stroke="#111" stroke-width="1.5"/>
<line x1="148.25" y1="357.04" x2="156.55" y2="357.04" stroke="#111" stroke-width="1.5"/>
<line x1="190.00" y1="339.10" x2="190.00" y2="352.60" stroke="#111" stroke-width="1.5"/>
<line x1="185.85" y1="342.75" x2="194.15" y2="342.75" stroke="#111" stroke-width="1.5"/>
<rect x="61.95" y="290.15" width="11.30" height="8.10" fill="#111" stroke="#111" stroke-width="1.5"/>
<rect x="61.95" y="305.75" width="11.30" height="7.70" fill="#fff" stroke="#111" stroke-width="1.5"/>
<rect x="136.65" y="289.25" width="11.30" height="7.80" fill="#fff" stroke="#111" stroke-width="1.5"/>
<line x1="139.10" y1="290.00" x2="139.10" y2="296.30" stroke="#444" stroke-width="1.0"/>
<line x1="142.30" y1="290.00" x2="142.30" y2="296.30" stroke="#444" stroke-width="1.0"/>
<line x1="145.50" y1="290.00" x2="145.50" y2="296.30" stroke="#444" stroke-width="1.0"/>
<rect x="136.65" y="305.35" width="11.30" height="8.30" fill="#fff" stroke="#c9417a" stroke-width="1.5"/>
<line x1="137.40" y1="307.05" x2="147.20" y2="307.05" stroke="#c9417a" stroke-width="1.0"/>
<line x1="137.40" y1="309.50" x2="147.20" y2="309.50" stroke="#c9417a" stroke-width="1.0"/>
<line x1="137.40" y1="311.95" x2="147.20" y2="311.95" stroke="#c9417a" stroke-width="1.0"/>
<text x="79.68" y="298.30" font-size="11.6" fill="#111" stroke="#111" stroke-width="0.28" textLength="49.55" lengthAdjust="spacingAndGlyphs" >Sham WT</text>
<text x="79.57" y="313.20" font-size="11.6" fill="#111" stroke="#111" stroke-width="0.28" textLength="35.14" lengthAdjust="spacingAndGlyphs" >MI WT</text>
<text x="153.78" y="296.80" font-size="11.6" fill="#111" stroke="#111" stroke-width="0.28" textLength="46.87" lengthAdjust="spacingAndGlyphs" >Sham Tg</text>
<text x="154.44" y="313.30" font-size="11.6" fill="#c9417a" stroke="#c9417a" stroke-width="0.28" textLength="31.45" lengthAdjust="spacingAndGlyphs" >WI Tg</text>
<text x="67.20" y="497.70" font-size="11.3" fill="#111" stroke="#111" stroke-width="0.28" textLength="124.10" lengthAdjust="spacingAndGlyphs" >Four weeks after surgery</text>
<text x="0" y="0" font-size="13.3" fill="#111" stroke="#111" stroke-width="0.35" textLength="150.18" lengthAdjust="spacingAndGlyphs" transform="translate(26.70,459.76) rotate(-90)">Heart weight/body weight</text>
<text x="0" y="0" font-size="13.3" fill="#111" stroke="#111" stroke-width="0.35" textLength="37.35" lengthAdjust="spacingAndGlyphs" transform="translate(40.60,402.70) rotate(-90)">(mg/g)</text>
<line x1="281.80" y1="289.10" x2="281.80" y2="483.70" stroke="#111" stroke-width="1.8"/>
<line x1="278.80" y1="289.50" x2="281.80" y2="289.50" stroke="#111" stroke-width="1.8"/>
<text x="277.39" y="293.72" font-size="11.8" fill="#111" stroke="#111" stroke-width="0.28" text-anchor="end">8</text>
<line x1="278.80" y1="337.82" x2="281.80" y2="337.82" stroke="#111" stroke-width="1.8"/>
<text x="277.39" y="342.05" font-size="11.8" fill="#111" stroke="#111" stroke-width="0.28" text-anchor="end">6</text>
<line x1="278.80" y1="386.15" x2="281.80" y2="386.15" stroke="#111" stroke-width="1.8"/>
<text x="277.27" y="390.37" font-size="11.8" fill="#111" stroke="#111" stroke-width="0.28" text-anchor="end">4</text>
<line x1="278.80" y1="434.48" x2="281.80" y2="434.48" stroke="#111" stroke-width="1.8"/>
<text x="277.50" y="438.70" font-size="11.8" fill="#111" stroke="#111" stroke-width="0.28" text-anchor="end">2</text>
<line x1="278.80" y1="482.80" x2="281.80" y2="482.80" stroke="#111" stroke-width="1.8"/>
<text x="277.33" y="487.02" font-size="11.8" fill="#111" stroke="#111" stroke-width="0.28" text-anchor="end">0</text>
<line x1="280.90" y1="482.80" x2="435.60" y2="482.80" stroke="#111" stroke-width="1.8"/>
<line x1="301.35" y1="388.30" x2="301.35" y2="393.60" stroke="#111" stroke-width="1.7"/>
<line x1="295.25" y1="388.30" x2="307.45" y2="388.30" stroke="#111" stroke-width="1.8"/>
<rect x="287.80" y="392.60" width="27.10" height="90.20" fill="#111"/>
<line x1="340.15" y1="357.20" x2="340.15" y2="362.40" stroke="#111" stroke-width="1.7"/>
<line x1="334.05" y1="357.20" x2="346.25" y2="357.20" stroke="#111" stroke-width="1.8"/>
<rect x="327.70" y="362.30" width="24.90" height="120.50" fill="#fff" stroke="#111" stroke-width="1.8"/>
<line x1="379.15" y1="393.70" x2="379.15" y2="398.70" stroke="#111" stroke-width="1.7"/>
<line x1="373.05" y1="393.70" x2="385.25" y2="393.70" stroke="#111" stroke-width="1.8"/>
<rect x="366.80" y="398.60" width="24.70" height="84.20" fill="#fff" stroke="#111" stroke-width="1.8"/>
<line x1="369.40" y1="399.50" x2="369.40" y2="482.80" stroke="#666" stroke-width="0.9"/>
<line x1="372.60" y1="399.50" x2="372.60" y2="482.80" stroke="#666" stroke-width="0.9"/>
<line x1="375.80" y1="399.50" x2="375.80" y2="482.80" stroke="#666" stroke-width="0.9"/>
<line x1="379.00" y1="399.50" x2="379.00" y2="482.80" stroke="#666" stroke-width="0.9"/>
<line x1="382.20" y1="399.50" x2="382.20" y2="482.80" stroke="#666" stroke-width="0.9"/>
<line x1="385.40" y1="399.50" x2="385.40" y2="482.80" stroke="#666" stroke-width="0.9"/>
<line x1="388.60" y1="399.50" x2="388.60" y2="482.80" stroke="#666" stroke-width="0.9"/>
<line x1="417.70" y1="381.00" x2="417.70" y2="389.30" stroke="#c9417a" stroke-width="1.7"/>
<line x1="411.60" y1="381.00" x2="423.80" y2="381.00" stroke="#c9417a" stroke-width="1.8"/>
<rect x="405.10" y="389.20" width="25.20" height="93.60" fill="#fdf1f7" stroke="#c9417a" stroke-width="1.8"/>
<line x1="406.00" y1="392.10" x2="429.40" y2="392.10" stroke="#dfa3bf" stroke-width="1.0"/>
<line x1="406.00" y1="395.50" x2="429.40" y2="395.50" stroke="#dfa3bf" stroke-width="1.0"/>
<line x1="406.00" y1="398.90" x2="429.40" y2="398.90" stroke="#dfa3bf" stroke-width="1.0"/>
<line x1="406.00" y1="402.30" x2="429.40" y2="402.30" stroke="#dfa3bf" stroke-width="1.0"/>
<line x1="406.00" y1="405.70" x2="429.40" y2="405.70" stroke="#dfa3bf" stroke-width="1.0"/>
<line x1="406.00" y1="409.10" x2="429.40" y2="409.10" stroke="#dfa3bf" stroke-width="1.0"/>
<line x1="406.00" y1="412.50" x2="429.40" y2="412.50" stroke="#dfa3bf" stroke-width="1.0"/>
<line x1="406.00" y1="415.90" x2="429.40" y2="415.90" stroke="#dfa3bf" stroke-width="1.0"/>
<line x1="406.00" y1="419.30" x2="429.40" y2="419.30" stroke="#dfa3bf" stroke-width="1.0"/>
<line x1="406.00" y1="422.70" x2="429.40" y2="422.70" stroke="#dfa3bf" stroke-width="1.0"/>
<line x1="406.00" y1="426.10" x2="429.40" y2="426.10" stroke="#dfa3bf" stroke-width="1.0"/>
<line x1="406.00" y1="429.50" x2="429.40" y2="429.50" stroke="#dfa3bf" stroke-width="1.0"/>
<line x1="406.00" y1="432.90" x2="429.40" y2="432.90" stroke="#dfa3bf" stroke-width="1.0"/>
<line x1="406.00" y1="436.30" x2="429.40" y2="436.30" stroke="#dfa3bf" stroke-width="1.0"/>
<line x1="406.00" y1="439.70" x2="429.40" y2="439.70" stroke="#dfa3bf" stroke-width="1.0"/>
<line x1="406.00" y1="443.10" x2="429.40" y2="443.10" stroke="#dfa3bf" stroke-width="1.0"/>
<line x1="406.00" y1="446.50" x2="429.40" y2="446.50" stroke="#dfa3bf" stroke-width="1.0"/>
<line x1="406.00" y1="449.90" x2="429.40" y2="449.90" stroke="#dfa3bf" stroke-width="1.0"/>
<line x1="406.00" y1="453.30" x2="429.40" y2="453.30" stroke="#dfa3bf" stroke-width="1.0"/>
<line x1="406.00" y1="456.70" x2="429.40" y2="456.70" stroke="#dfa3bf" stroke-width="1.0"/>
<line x1="406.00" y1="460.10" x2="429.40" y2="460.10" stroke="#dfa3bf" stroke-width="1.0"/>
<line x1="406.00" y1="463.50" x2="429.40" y2="463.50" stroke="#dfa3bf" stroke-width="1.0"/>
<line x1="406.00" y1="466.90" x2="429.40" y2="466.90" stroke="#dfa3bf" stroke-width="1.0"/>
<line x1="406.00" y1="470.30" x2="429.40" y2="470.30" stroke="#dfa3bf" stroke-width="1.0"/>
<line x1="406.00" y1="473.70" x2="429.40" y2="473.70" stroke="#dfa3bf" stroke-width="1.0"/>
<line x1="406.00" y1="477.10" x2="429.40" y2="477.10" stroke="#dfa3bf" stroke-width="1.0"/>
<line x1="406.00" y1="480.50" x2="429.40" y2="480.50" stroke="#dfa3bf" stroke-width="1.0"/>
<path d="M340.50,348.79L340.50,345.25M340.50,348.79L337.14,347.69M340.50,348.79L338.42,351.65M340.50,348.79L342.58,351.65M340.50,348.79L343.86,347.69" stroke="#111" stroke-width="1.9" stroke-linecap="round" fill="none"/>
<line x1="379.20" y1="374.50" x2="379.20" y2="387.40" stroke="#111" stroke-width="1.5"/>
<line x1="375.05" y1="377.98" x2="383.35" y2="377.98" stroke="#111" stroke-width="1.5"/>
<line x1="418.40" y1="365.00" x2="418.40" y2="377.90" stroke="#111" stroke-width="1.5"/>
<line x1="414.25" y1="368.48" x2="422.55" y2="368.48" stroke="#111" stroke-width="1.5"/>
<rect x="286.85" y="292.45" width="10.80" height="8.40" fill="#111" stroke="#111" stroke-width="1.5"/>
<rect x="286.85" y="309.05" width="10.80" height="8.20" fill="#fff" stroke="#111" stroke-width="1.5"/>
<rect x="362.85" y="292.25" width="11.60" height="8.20" fill="#fff" stroke="#111" stroke-width="1.5"/>
<line x1="365.38" y1="293.00" x2="365.38" y2="299.70" stroke="#444" stroke-width="1.0"/>
<line x1="368.65" y1="293.00" x2="368.65" y2="299.70" stroke="#444" stroke-width="1.0"/>
<line x1="371.93" y1="293.00" x2="371.93" y2="299.70" stroke="#444" stroke-width="1.0"/>
<rect x="362.85" y="309.05" width="11.60" height="8.60" fill="#fff" stroke="#c9417a" stroke-width="1.5"/>
<line x1="363.60" y1="310.82" x2="373.70" y2="310.82" stroke="#c9417a" stroke-width="1.0"/>
<line x1="363.60" y1="313.35" x2="373.70" y2="313.35" stroke="#c9417a" stroke-width="1.0"/>
<line x1="363.60" y1="315.88" x2="373.70" y2="315.88" stroke="#c9417a" stroke-width="1.0"/>
<text x="304.56" y="300.00" font-size="11.9" fill="#111" stroke="#111" stroke-width="0.28" textLength="52.87" lengthAdjust="spacingAndGlyphs" >Sham WT</text>
<text x="304.35" y="316.60" font-size="11.9" fill="#111" stroke="#111" stroke-width="0.28" textLength="36.17" lengthAdjust="spacingAndGlyphs" >MI WT</text>
<text x="381.16" y="299.80" font-size="11.9" fill="#111" stroke="#111" stroke-width="0.28" textLength="48.70" lengthAdjust="spacingAndGlyphs" >Sham Tg</text>
<text x="381.74" y="316.40" font-size="11.9" fill="#c9417a" stroke="#c9417a" stroke-width="0.28" textLength="32.57" lengthAdjust="spacingAndGlyphs" >WI Tg</text>
<text x="293.16" y="497.70" font-size="11.7" fill="#111" stroke="#111" stroke-width="0.28" textLength="129.73" lengthAdjust="spacingAndGlyphs" >Four weeks after surgery</text>
<text x="0" y="0" font-size="13.6" fill="#111" stroke="#111" stroke-width="0.35" textLength="138.99" lengthAdjust="spacingAndGlyphs" transform="translate(247.40,453.59) rotate(-90)">LV weight/body weight</text>
<text x="0" y="0" font-size="13.6" fill="#111" stroke="#111" stroke-width="0.35" textLength="40.39" lengthAdjust="spacingAndGlyphs" transform="translate(261.00,403.42) rotate(-90)">(mg/g)</text>
<line x1="510.20" y1="303.40" x2="510.20" y2="481.20" stroke="#111" stroke-width="1.8"/>
<line x1="507.20" y1="303.80" x2="510.20" y2="303.80" stroke="#111" stroke-width="1.8"/>
<text x="506.22" y="308.02" font-size="11.8" fill="#111" stroke="#111" stroke-width="0.28" text-anchor="end">12</text>
<line x1="507.20" y1="347.93" x2="510.20" y2="347.93" stroke="#111" stroke-width="1.8"/>
<text x="506.14" y="352.15" font-size="11.8" fill="#111" stroke="#111" stroke-width="0.28" text-anchor="end">9</text>
<line x1="507.20" y1="392.05" x2="510.20" y2="392.05" stroke="#111" stroke-width="1.8"/>
<text x="506.09" y="396.27" font-size="11.8" fill="#111" stroke="#111" stroke-width="0.28" text-anchor="end">6</text>
<line x1="507.20" y1="436.18" x2="510.20" y2="436.18" stroke="#111" stroke-width="1.8"/>
<text x="506.09" y="440.40" font-size="11.8" fill="#111" stroke="#111" stroke-width="0.28" text-anchor="end">3</text>
<line x1="507.20" y1="480.30" x2="510.20" y2="480.30" stroke="#111" stroke-width="1.8"/>
<text x="506.03" y="484.52" font-size="11.8" fill="#111" stroke="#111" stroke-width="0.28" text-anchor="end">0</text>
<line x1="509.30" y1="480.30" x2="658.60" y2="480.30" stroke="#111" stroke-width="1.8"/>
<line x1="529.20" y1="393.20" x2="529.20" y2="396.80" stroke="#111" stroke-width="1.7"/>
<line x1="523.10" y1="393.20" x2="535.30" y2="393.20" stroke="#111" stroke-width="1.8"/>
<rect x="516.40" y="395.80" width="25.60" height="84.50" fill="#111"/>
<line x1="567.50" y1="346.30" x2="567.50" y2="353.80" stroke="#111" stroke-width="1.7"/>
<line x1="561.40" y1="346.30" x2="573.60" y2="346.30" stroke="#111" stroke-width="1.8"/>
<rect x="555.30" y="353.70" width="24.40" height="126.60" fill="#fff" stroke="#111" stroke-width="1.8"/>
<line x1="605.75" y1="392.30" x2="605.75" y2="395.80" stroke="#111" stroke-width="1.7"/>
<line x1="599.65" y1="392.30" x2="611.85" y2="392.30" stroke="#111" stroke-width="1.8"/>
<rect x="593.70" y="395.70" width="24.10" height="84.60" fill="#fff" stroke="#111" stroke-width="1.8"/>
<line x1="596.30" y1="396.60" x2="596.30" y2="480.30" stroke="#666" stroke-width="0.9"/>
<line x1="599.50" y1="396.60" x2="599.50" y2="480.30" stroke="#666" stroke-width="0.9"/>
<line x1="602.70" y1="396.60" x2="602.70" y2="480.30" stroke="#666" stroke-width="0.9"/>
<line x1="605.90" y1="396.60" x2="605.90" y2="480.30" stroke="#666" stroke-width="0.9"/>
<line x1="609.10" y1="396.60" x2="609.10" y2="480.30" stroke="#666" stroke-width="0.9"/>
<line x1="612.30" y1="396.60" x2="612.30" y2="480.30" stroke="#666" stroke-width="0.9"/>
<line x1="615.50" y1="396.60" x2="615.50" y2="480.30" stroke="#666" stroke-width="0.9"/>
<line x1="643.65" y1="379.40" x2="643.65" y2="385.30" stroke="#c9417a" stroke-width="1.7"/>
<line x1="637.55" y1="379.40" x2="649.75" y2="379.40" stroke="#c9417a" stroke-width="1.8"/>
<rect x="631.20" y="385.20" width="24.90" height="95.10" fill="#fdf1f7" stroke="#c9417a" stroke-width="1.8"/>
<line x1="632.10" y1="388.10" x2="655.20" y2="388.10" stroke="#dfa3bf" stroke-width="1.0"/>
<line x1="632.10" y1="391.50" x2="655.20" y2="391.50" stroke="#dfa3bf" stroke-width="1.0"/>
<line x1="632.10" y1="394.90" x2="655.20" y2="394.90" stroke="#dfa3bf" stroke-width="1.0"/>
<line x1="632.10" y1="398.30" x2="655.20" y2="398.30" stroke="#dfa3bf" stroke-width="1.0"/>
<line x1="632.10" y1="401.70" x2="655.20" y2="401.70" stroke="#dfa3bf" stroke-width="1.0"/>
<line x1="632.10" y1="405.10" x2="655.20" y2="405.10" stroke="#dfa3bf" stroke-width="1.0"/>
<line x1="632.10" y1="408.50" x2="655.20" y2="408.50" stroke="#dfa3bf" stroke-width="1.0"/>
<line x1="632.10" y1="411.90" x2="655.20" y2="411.90" stroke="#dfa3bf" stroke-width="1.0"/>
<line x1="632.10" y1="415.30" x2="655.20" y2="415.30" stroke="#dfa3bf" stroke-width="1.0"/>
<line x1="632.10" y1="418.70" x2="655.20" y2="418.70" stroke="#dfa3bf" stroke-width="1.0"/>
<line x1="632.10" y1="422.10" x2="655.20" y2="422.10" stroke="#dfa3bf" stroke-width="1.0"/>
<line x1="632.10" y1="425.50" x2="655.20" y2="425.50" stroke="#dfa3bf" stroke-width="1.0"/>
<line x1="632.10" y1="428.90" x2="655.20" y2="428.90" stroke="#dfa3bf" stroke-width="1.0"/>
<line x1="632.10" y1="432.30" x2="655.20" y2="432.30" stroke="#dfa3bf" stroke-width="1.0"/>
<line x1="632.10" y1="435.70" x2="655.20" y2="435.70" stroke="#dfa3bf" stroke-width="1.0"/>
<line x1="632.10" y1="439.10" x2="655.20" y2="439.10" stroke="#dfa3bf" stroke-width="1.0"/>
<line x1="632.10" y1="442.50" x2="655.20" y2="442.50" stroke="#dfa3bf" stroke-width="1.0"/>
<line x1="632.10" y1="445.90" x2="655.20" y2="445.90" stroke="#dfa3bf" stroke-width="1.0"/>
<line x1="632.10" y1="449.30" x2="655.20" y2="449.30" stroke="#dfa3bf" stroke-width="1.0"/>
<line x1="632.10" y1="452.70" x2="655.20" y2="452.70" stroke="#dfa3bf" stroke-width="1.0"/>
<line x1="632.10" y1="456.10" x2="655.20" y2="456.10" stroke="#dfa3bf" stroke-width="1.0"/>
<line x1="632.10" y1="459.50" x2="655.20" y2="459.50" stroke="#dfa3bf" stroke-width="1.0"/>
<line x1="632.10" y1="462.90" x2="655.20" y2="462.90" stroke="#dfa3bf" stroke-width="1.0"/>
<line x1="632.10" y1="466.30" x2="655.20" y2="466.30" stroke="#dfa3bf" stroke-width="1.0"/>
<line x1="632.10" y1="469.70" x2="655.20" y2="469.70" stroke="#dfa3bf" stroke-width="1.0"/>
<line x1="632.10" y1="473.10" x2="655.20" y2="473.10" stroke="#dfa3bf" stroke-width="1.0"/>
<line x1="632.10" y1="476.50" x2="655.20" y2="476.50" stroke="#dfa3bf" stroke-width="1.0"/>
<path d="M567.00,337.44L567.00,333.85M567.00,337.44L563.58,336.33M567.00,337.44L564.89,340.35M567.00,337.44L569.11,340.35M567.00,337.44L570.42,336.33" stroke="#111" stroke-width="1.9" stroke-linecap="round" fill="none"/>
<line x1="606.00" y1="373.10" x2="606.00" y2="387.10" stroke="#111" stroke-width="1.5"/>
<line x1="601.85" y1="376.88" x2="610.15" y2="376.88" stroke="#111" stroke-width="1.5"/>
<line x1="643.80" y1="361.40" x2="643.80" y2="375.70" stroke="#111" stroke-width="1.5"/>
<line x1="639.65" y1="365.26" x2="647.95" y2="365.26" stroke="#111" stroke-width="1.5"/>
<rect x="514.85" y="304.65" width="11.00" height="8.50" fill="#111" stroke="#111" stroke-width="1.5"/>
<rect x="514.85" y="320.05" width="11.00" height="8.20" fill="#fff" stroke="#111" stroke-width="1.5"/>
<rect x="591.75" y="304.05" width="11.30" height="8.40" fill="#fff" stroke="#111" stroke-width="1.5"/>
<line x1="594.20" y1="304.80" x2="594.20" y2="311.70" stroke="#444" stroke-width="1.0"/>
<line x1="597.40" y1="304.80" x2="597.40" y2="311.70" stroke="#444" stroke-width="1.0"/>
<line x1="600.60" y1="304.80" x2="600.60" y2="311.70" stroke="#444" stroke-width="1.0"/>
<rect x="591.75" y="319.15" width="11.30" height="8.30" fill="#fff" stroke="#c9417a" stroke-width="1.5"/>
<line x1="592.50" y1="320.85" x2="602.30" y2="320.85" stroke="#c9417a" stroke-width="1.0"/>
<line x1="592.50" y1="323.30" x2="602.30" y2="323.30" stroke="#c9417a" stroke-width="1.0"/>
<line x1="592.50" y1="325.75" x2="602.30" y2="325.75" stroke="#c9417a" stroke-width="1.0"/>
<text x="532.96" y="312.50" font-size="11.9" fill="#111" stroke="#111" stroke-width="0.28" textLength="52.87" lengthAdjust="spacingAndGlyphs" >Sham WT</text>
<text x="532.75" y="327.60" font-size="11.9" fill="#111" stroke="#111" stroke-width="0.28" textLength="36.07" lengthAdjust="spacingAndGlyphs" >MI WT</text>
<text x="609.76" y="311.30" font-size="11.9" fill="#111" stroke="#111" stroke-width="0.28" textLength="48.70" lengthAdjust="spacingAndGlyphs" >Sham Tg</text>
<text x="610.44" y="327.00" font-size="11.9" fill="#c9417a" stroke="#c9417a" stroke-width="0.28" textLength="32.07" lengthAdjust="spacingAndGlyphs" >WI Tg</text>
<text x="520.96" y="494.20" font-size="11.8" fill="#111" stroke="#111" stroke-width="0.28" textLength="130.34" lengthAdjust="spacingAndGlyphs" >Four weeks after surgery</text>
<text x="0" y="0" font-size="13.8" fill="#111" stroke="#111" stroke-width="0.35" textLength="154.42" lengthAdjust="spacingAndGlyphs" transform="translate(479.20,467.40) rotate(-90)">Lung weight/body weight</text>
<text x="0" y="0" font-size="13.8" fill="#111" stroke="#111" stroke-width="0.35" textLength="40.02" lengthAdjust="spacingAndGlyphs" transform="translate(492.60,409.63) rotate(-90)">(mg/g)</text>
</svg>
</body></html>
